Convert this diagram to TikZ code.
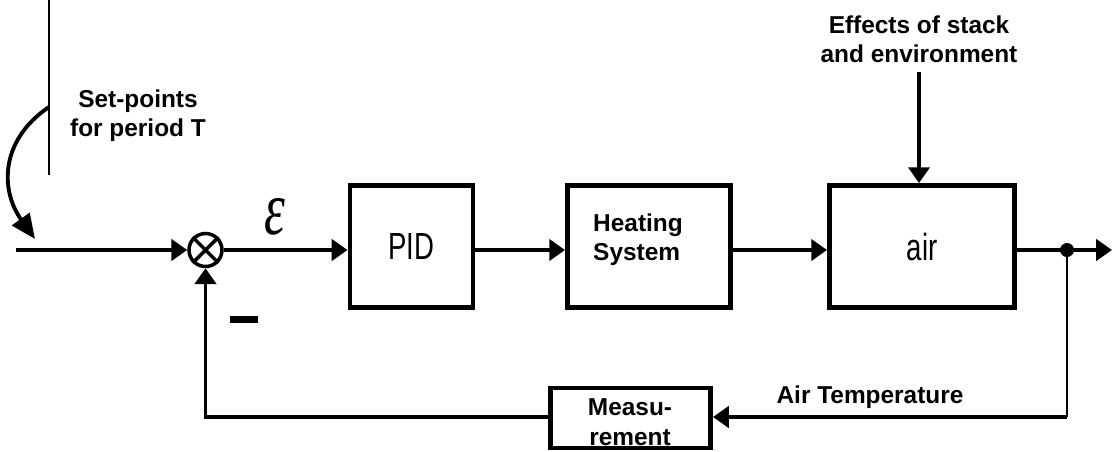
\documentclass[tikz,border=0pt]{standalone}
\usepackage{fontspec}
\setmainfont{Liberation Sans}
\newfontfamily\narrowfont[FakeStretch=0.73]{Liberation Sans}
\newfontfamily\epsfont{Liberation Serif}
\usetikzlibrary{arrows.meta}
\begin{document}
\begin{tikzpicture}[x=0.02cm,y=-0.02cm,
  conn/.style={line width=2.2pt},
  arr/.style={conn,-{Triangle[length=9pt,width=12pt]}},
  blk/.style={draw,line width=2.8pt,inner sep=0pt,minimum height=2.44cm},
  lbl/.style={font=\fontsize{13.9}{16.4}\selectfont\bfseries,align=center,inner sep=0pt},
  big/.style={font=\fontsize{21.5}{24}\selectfont\narrowfont}]
\useasboundingbox (0,0) rectangle (1114,451);

% summing junction
\node[draw,circle,line width=2pt,minimum size=0.66cm,inner sep=0pt] (sum) at (205.5,250) {};
\draw[line width=2pt] (sum.north east) -- (sum.south west) (sum.north west) -- (sum.south east);

% blocks
\node[blk,minimum width=2.46cm] (pid) at (411.5,246.5) {};
\node[big] (pidtxt) at (pid) {PID};
\node[blk,minimum width=3.26cm] (heat) at (649,246.5) {};
\node[lbl,align=left] (heattxt) at (638,240) {Heating\\System};
\node[blk,minimum width=3.7cm] (air) at (922,246.5) {};
\node[big] (airtxt) at (922,247) {air};
\node[draw,line width=2.8pt,inner sep=0pt,minimum width=3.2cm,minimum height=1.2cm] (meas) at (630.5,418) {};
\node[lbl,font=\fontsize{13.9}{17}\selectfont\bfseries] (meastxt) at (630,422) {Measu-\\rement};

% input and set-points
\coordinate (in) at (16,250);
\coordinate (spTop) at (49,0);
\coordinate (spBot) at (49,175);
\coordinate (spStart) at (49,107);
\coordinate (spEnd) at (35,239);
\draw[arr] (in) -- (sum.west);
\draw[line width=1.2pt] (spTop) -- (spBot);
\draw[conn,-{Triangle[length=14pt,width=12pt]}] (spStart) .. controls (0,140) and (0,190) .. (spEnd);
\node[lbl] (setp) at (138,116) {Set-points\\for period T};

% forward path
\node[inner sep=0pt] (eps) at (275,217) {\scalebox{1}[1.45]{\fontsize{30}{30}\selectfont\epsfont\itshape ε}};
\draw[arr] (sum.east) -- (pid.west |- sum.east);
\draw[arr] (pid.east |- sum.east) -- (heat.west |- sum.east);
\draw[arr] (heat.east |- sum.east) -- (air.west |- sum.east);
\coordinate (out) at (1112,250);
\node[circle,fill,inner sep=0pt,minimum size=0.28cm] (dot) at (1067,250) {};
\draw[arr] (air.east |- sum.east) -- (out);

% disturbance
\coordinate (effTop) at (919,72);
\draw[arr] (effTop) -- (air.north -| effTop);
\node[lbl] (effects) at (919,39) {Effects of stack\\and environment};

% feedback
\coordinate (fbR) at (1067,417);
\coordinate (fbL) at (205.5,417);
\draw[line width=1.6pt] (dot) -- (fbR);
\draw[arr] (fbR) -- (meas.east |- fbR);
\draw[arr] (meas.west |- fbL) -- (fbL) -- (sum.south);
\node[lbl] (airtemp) at (870,397) {Air Temperature};
\node[inner sep=0pt] (minus) at (244,319) {\rule{0.56cm}{0.14cm}};
\end{tikzpicture}
\end{document}
